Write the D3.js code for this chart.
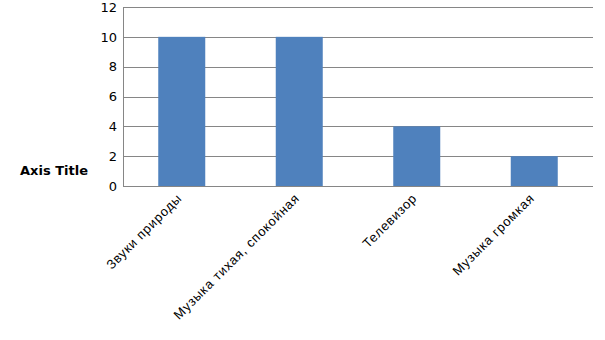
<!DOCTYPE html>
<html>
<head>
<meta charset="utf-8">
<script src="https://cdn.jsdelivr.net/npm/d3@7"></script>
<style>
  html, body { margin: 0; padding: 0; background: #fff; }
  svg { display: block; }
</style>
</head>
<body>
<svg id="chart" width="605" height="340"></svg>
<script>
// Chart data
const categories = ["Звуки природы", "Музыка тихая, спокойная", "Телевизор", "Музыка громкая"];
const values = [10, 10, 4, 2];
const yTicks = [0, 2, 4, 6, 8, 10, 12];
const yAxisTitle = "Axis Title";

const svg = d3.select("#chart");
const margin = { left: 123, right: 12, top: 7, bottom: 154 };
const W = 605, H = 340;
const plotW = W - margin.left - margin.right;
const plotH = H - margin.top - margin.bottom;

const x = d3.scaleBand().domain(categories).range([0, plotW]).paddingInner(0.6).paddingOuter(0.3);
const y = d3.scaleLinear().domain([0, 12]).range([plotH, 0]);

const g = svg.append("g").attr("transform", `translate(${margin.left},${margin.top})`);

// Horizontal gridlines
g.append("g").selectAll("line").data(yTicks.filter(t => t > 0)).join("line")
  .attr("x1", 0).attr("x2", plotW)
  .attr("y1", d => Math.round(y(d)) + 0.5).attr("y2", d => Math.round(y(d)) + 0.5)
  .attr("stroke", "#868686").attr("stroke-width", 1);

// Bars
g.append("g").selectAll("rect").data(categories).join("rect")
  .attr("x", d => x(d))
  .attr("width", x.bandwidth())
  .attr("y", (d, i) => y(values[i]))
  .attr("height", (d, i) => plotH - y(values[i]))
  .attr("fill", "#4f81bd");

// Y axis
const yAxis = d3.axisLeft(y).tickValues(yTicks).tickSize(0).tickPadding(6);
const ya = g.append("g").call(yAxis);
ya.select(".domain").attr("stroke", "#868686").attr("d", `M0.5,0V${plotH}`);
ya.selectAll("text").attr("font-family", "DejaVu Sans").attr("font-size", 13).attr("fill", "#000");

// X axis
const xAxis = d3.axisBottom(x).tickSize(0).tickPadding(0);
const xa = g.append("g").attr("transform", `translate(0,${plotH})`).call(xAxis);
xa.select(".domain").attr("stroke", "#868686").attr("d", `M0,0.5H${plotW}`);
xa.selectAll("text")
  .attr("font-family", "Liberation Sans, Arial")
  .attr("font-size", 13)
  .attr("letter-spacing", "0.8px")
  .attr("fill", "#000")
  .attr("text-anchor", "end")
  .attr("dy", null)
  .attr("transform", "translate(1,13) rotate(-45)");

// Y axis title
svg.append("text")
  .attr("x", 20).attr("y", 175)
  .attr("font-family", "DejaVu Sans")
  .attr("font-weight", "bold")
  .attr("font-size", 13)
  .attr("fill", "#000")
  .text(yAxisTitle);
</script>
</body>
</html>
